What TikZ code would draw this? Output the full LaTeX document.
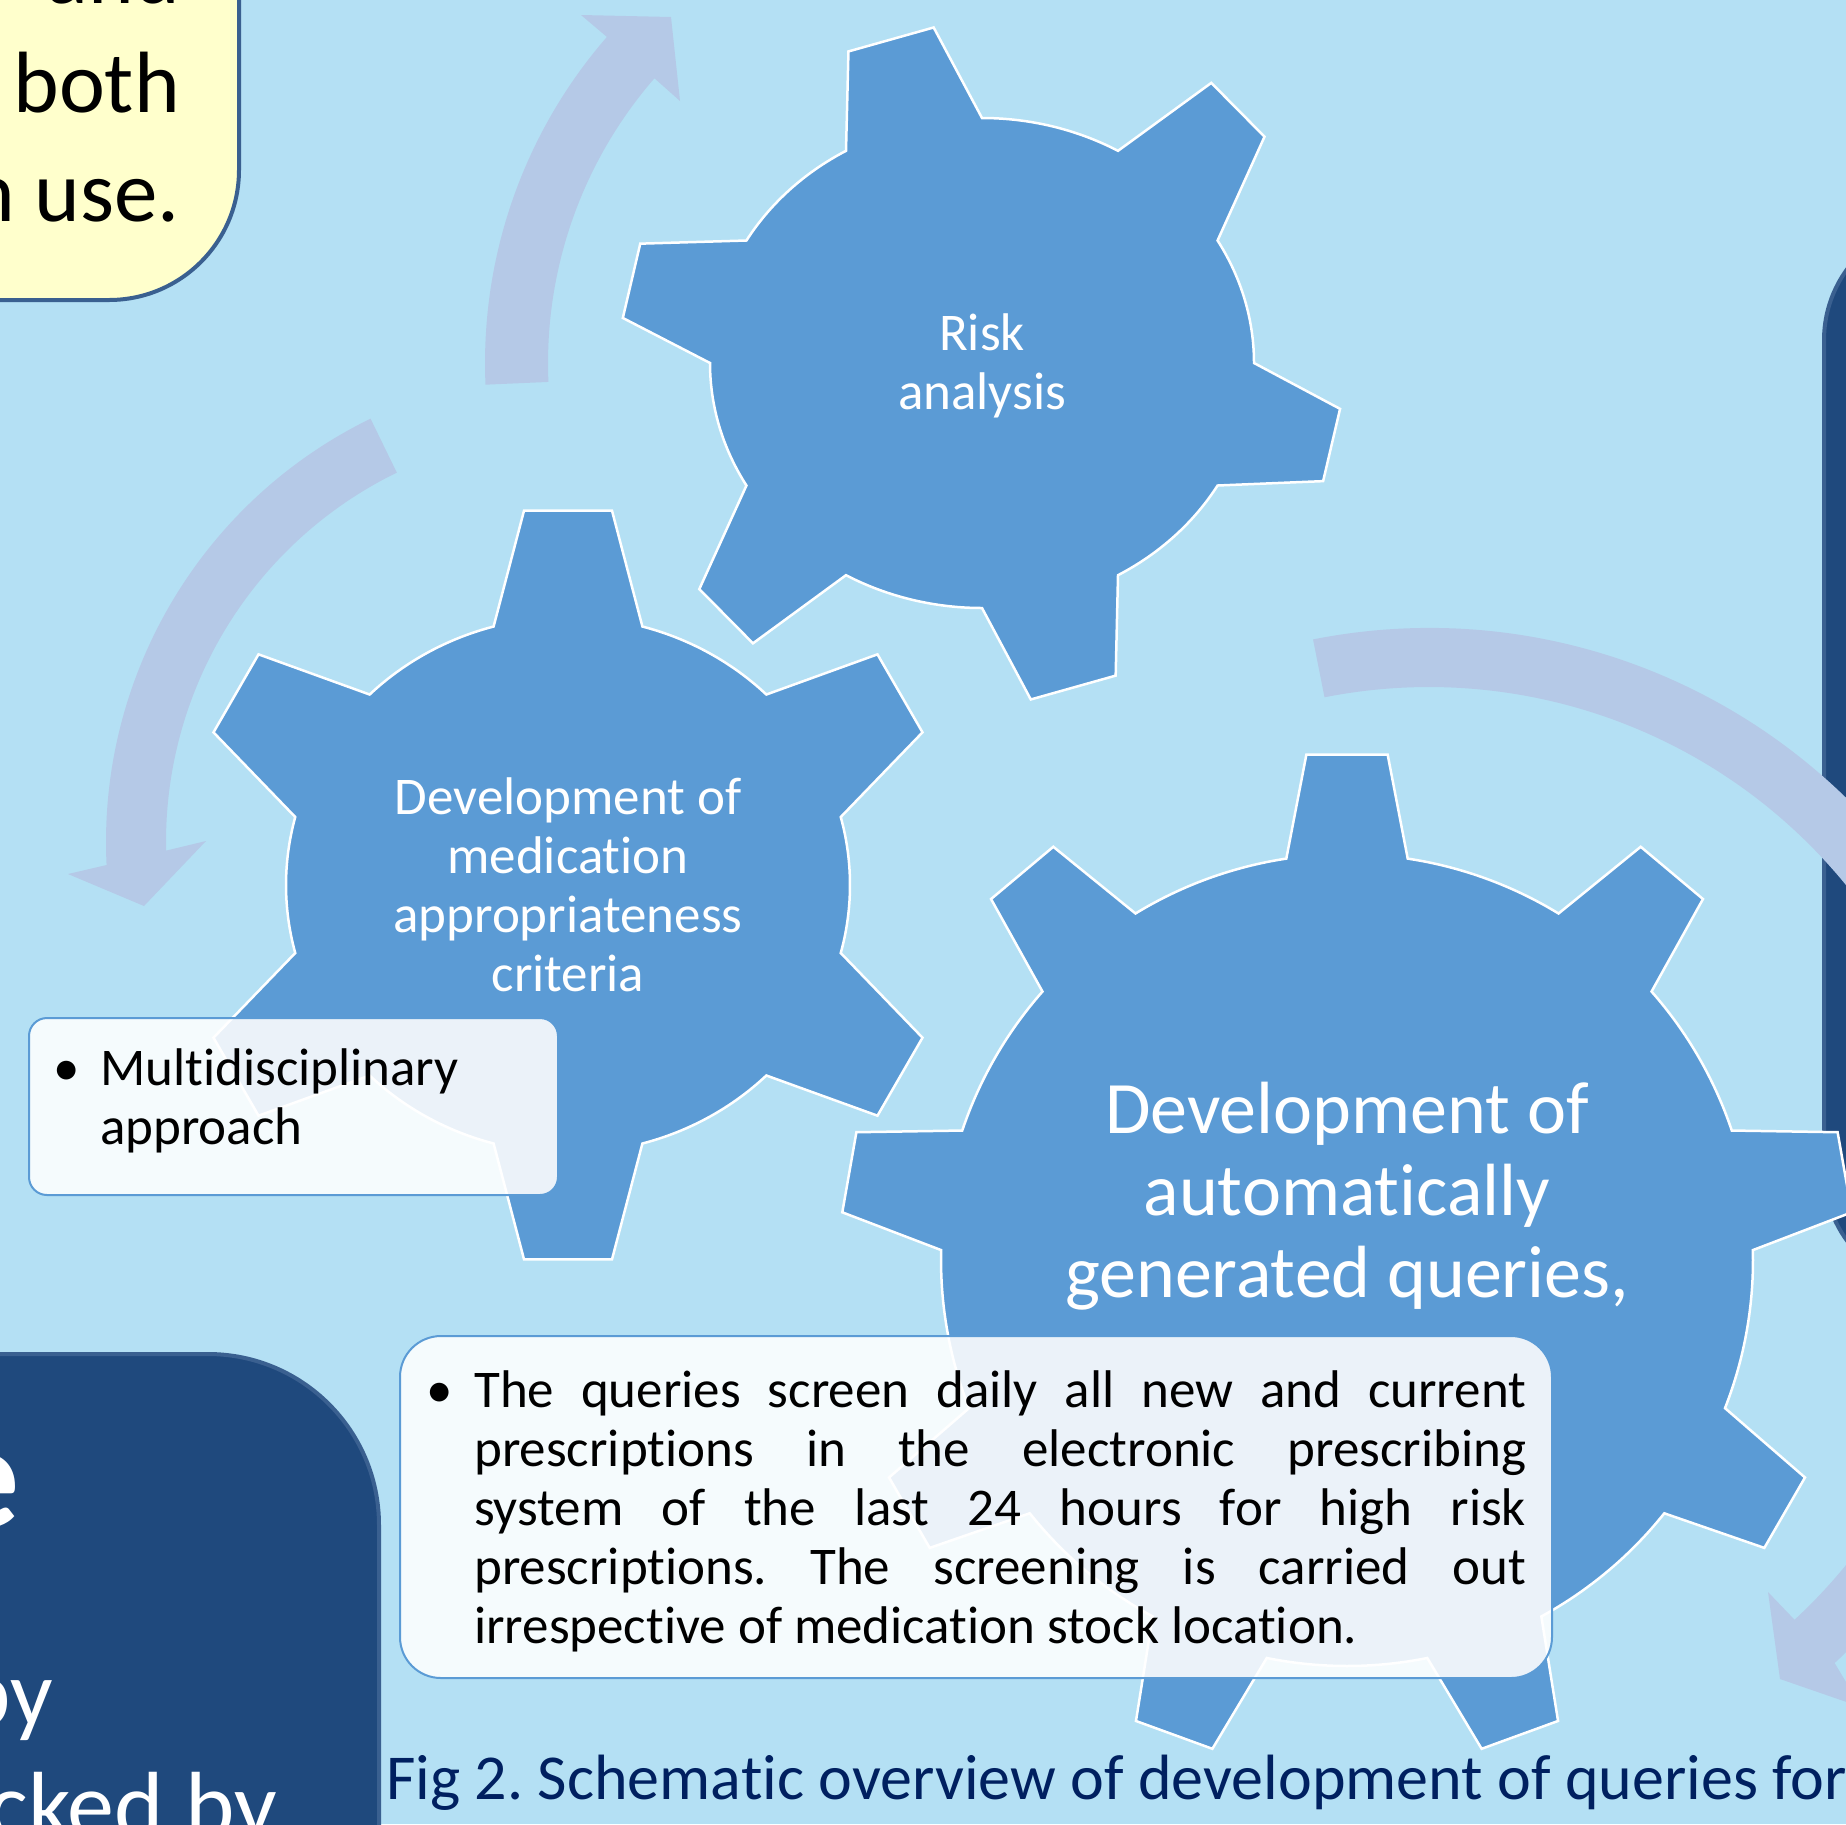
\documentclass[tikz,border=0pt]{standalone}
\usepackage{fontspec}
\setmainfont{Carlito}[Ligatures=NoCommon]
\usetikzlibrary{calc}
\definecolor{bgblue}{HTML}{B4E0F4}
\definecolor{gearblue}{HTML}{5B9BD5}
\definecolor{arrowc}{HTML}{B5C9E7}
\definecolor{darkbox}{HTML}{1F497D}
\definecolor{darkline}{HTML}{3A6090}
\definecolor{yellowbox}{HTML}{FFFFCC}
\definecolor{navy}{HTML}{002060}
\frenchspacing
\tikzset{
  gearshape/.style={fill=gearblue, draw=white, line width=2.5pt},
  cyclearrow/.style={fill=arrowc},
  gtext/.style={text=white, align=center, inner sep=0pt, font=\fontsize{53}{59}\selectfont},
  gtextbig/.style={text=white, align=center, inner sep=0pt, font=\fontsize{74}{82}\selectfont},
  tbox/.style={draw=gearblue, line width=2pt, fill=white, fill opacity=0.88},
  btext/.style={anchor=base west, inner sep=0pt, text=black, font=\fontsize{53}{59}\selectfont},
  ytext/.style={anchor=base east, inner sep=0pt, text=black, font=\fontsize{87}{109}\selectfont},
  wtext/.style={anchor=base east, inner sep=0pt, text=white, font=\fontsize{94}{112}\selectfont},
  captext/.style={anchor=base west, inner sep=0pt, text=navy, font=\fontsize{64}{76}\selectfont},
}
% #1 centre, #2 teeth, #3 phase, #4 inner x radius, #5 inner y radius,
% #6 base half angle, #7 list offset/tip radius/tip half angle (one per tooth)
\newcommand\gearpath[7]{%
  \begin{scope}[shift={(#1)}]
    \path[gearshape] ({#4*cos(#3-#6)},{#5*sin(#3-#6)})
      \foreach \d/\ro/\ta [count=\k] in {#7}{
        -- ({#4*cos(#3+360/#2*(\k-1)-#6)},{#5*sin(#3+360/#2*(\k-1)-#6)})
        -- ({#3+360/#2*(\k-1)+(\d)-\ta}:\ro)
        -- ({#3+360/#2*(\k-1)+(\d)+\ta}:\ro)
        -- ({#4*cos(#3+360/#2*(\k-1)+#6)},{#5*sin(#3+360/#2*(\k-1)+#6)})
        arc[start angle={#3+360/#2*(\k-1)+#6}, end angle={#3+360/#2*\k-#6}, x radius=#4, y radius=#5]
      } -- cycle;
  \end{scope}}
% #1 centre, #2 rin, #3 rout, #4 start angle, #5 outer end angle, #6 inner end angle,
% #7 outer wing, #8 tip, #9 inner wing (named coordinates)
\newcommand\arrowpath[9]{%
  \begin{scope}[shift={(#1)}]
    \path[cyclearrow] (#4:#3) arc[start angle=#4, end angle=#5, radius=#3]
      -- (#7) -- (#8) -- (#9) -- (#6:#2)
      arc[start angle=#6, end angle=#4, radius=#2] -- cycle;
  \end{scope}}
\begin{document}
\begin{tikzpicture}[x=1pt,y=-1pt]
\useasboundingbox (0,0) rectangle (1846,1824);
\clip (0,0) rectangle (1846,1824);
\fill[bgblue] (0,0) rectangle (1846,1824);

% side panels of the poster
\draw[fill=yellowbox, draw=darkline, line width=4pt]
  (-20,-20) -- (239,-20) -- (239,170) arc[start angle=0, end angle=90, radius=130] -- (-20,300) -- cycle;
\node[ytext] (yand) at (180,3) {and};
\node[ytext] (yboth) at (180,112) {both};
\node[ytext] (yuse) at (180,221) {n use.};

\draw[fill=darkbox, draw=darkline, line width=4pt]
  (-20,1900) -- (-20,1354) -- (208,1354) arc[start angle=-90, end angle=0, radius=171] -- (379,1900) -- cycle;
\node[anchor=base east, inner sep=0pt, text=white, font=\fontsize{150}{150}\selectfont\bfseries] (de) at (20,1527) {e};
\node[wtext] (dby) at (53,1725) {by};
\node[wtext] (dcked) at (277,1837) {cked by};

\draw[fill=darkbox, draw=darkline, line width=4pt]
  (1990,220) -- (1944,220) arc[start angle=-90, end angle=-180, radius=120] -- (1824,1170)
  arc[start angle=180, end angle=90, radius=120] -- (1990,1290) -- cycle;

% centres
\coordinate (riskc) at (982,363);
\coordinate (medc) at (568,885);
\coordinate (autoc) at (1347,1260);
\coordinate (toparc) at (982,363);
\coordinate (leftarc) at (577,842);
\coordinate (rightarc) at (1429,1225);

% arrow heads
\coordinate (tWo) at (581,15);
\coordinate (tTip) at (671,17);
\coordinate (tWi) at (680,101);
\coordinate (lWo) at (68,874);
\coordinate (lTip) at (144,906);
\coordinate (lWi) at (206,841);
\coordinate (rWo) at (1861,1707);
\coordinate (rTip) at (1780,1679);
\coordinate (rWi) at (1768,1592);

% cycle arrows
\arrowpath{toparc}{434}{497}{177.5}{221}{221}{tWo}{tTip}{tWi}
\arrowpath{leftarc}{411}{471}{244}{177.2}{178.8}{lWo}{lTip}{lWi}
\arrowpath{rightarc}{538}{597}{-101.2}{47.2}{47.2}{rWo}{rTip}{rWi}

% gears
\gearpath{riskc}{6}{15}{272}{245}{15}{-1.8/361/5.9, -0.7/340/7.45, 0.3/362/6.05, -1.8/362/6.05, -0.7/339/7.5, 0.3/362/6.0}
\gearpath{medc}{6}{30}{282}{268}{15.3}{0/386/6.7, 0/377/6.7, 0/386/6.7, 0/386/6.7, 0/377/6.7, 0/386/6.7}
\gearpath{autoc}{9}{30}{406}{406}{8.6}{0/507/4.6, 0/507/4.6, 0/507/4.6, 0/507/4.6, 0/507/4.6, 0/507/4.6, 0/507/4.6, 0/507/4.6, 0/507/4.6}

\node[gtext] (risk) at (982,366) {Risk\\analysis};
\node[gtext] (med) at (568,885) {Development of\\medication\\appropriateness\\criteria};
\node[gtextbig] (auto) at (1347,1196) {Development of\\automatically\\generated queries,};

% text boxes
\node[tbox, rounded corners=18pt, minimum width=529pt, minimum height=177pt] (mbox) at (293.5,1106.5) {};
\node[btext] (mbul) at (53,1085) {\textbullet};
\node[btext] (ml1) at (100,1085) {Multidisciplinary};
\node[btext] (ml2) at (100,1144) {approach};

\node[tbox, rounded corners=41pt, minimum width=1152pt, minimum height=342pt] (qbox) at (976,1507) {};
\node[btext] (qbul) at (426,1407) {\textbullet};
\node[btext] (q1) at (474,1407) {\makebox[1052pt][s]{The queries screen daily all new and current}};
\node[btext] (q2) at (474,1466) {\makebox[1052pt][s]{prescriptions in the electronic prescribing}};
\node[btext] (q3) at (474,1525) {\makebox[1052pt][s]{system of the last 24 hours for high risk}};
\node[btext] (q4) at (474,1584) {\makebox[1052pt][s]{prescriptions. The screening is carried out}};
\node[btext] (q5) at (474,1643) {irrespective of medication stock location.};

\node[captext] (cap) at (386,1799) {Fig 2. Schematic overview of development of queries for};
\end{tikzpicture}
\end{document}
